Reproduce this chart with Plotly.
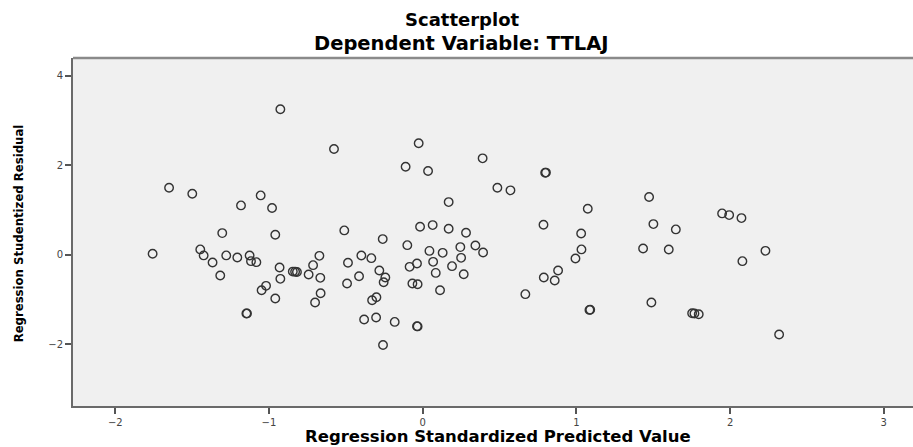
import plotly.graph_objects as go

# Regression Standardized Predicted Value (x) and Regression Studentized Residual (y)
pred_std = [
    -0.926, -0.577, -0.026, -0.111, 0.035, -1.650, -1.499, -1.054, -1.182, -0.980,
    0.169, -1.304, -0.959, -0.510, -0.017, 0.065, 0.169, -0.260, -0.100, 0.390,
    0.797, 0.802, 0.486, 0.571, 1.473, 1.074, 1.948, 1.994, 2.074, 0.282,
    0.786, 1.031, 1.501, 1.647, 0.245, 0.343, 0.393, 0.130, 0.250, 0.191,
    0.267, 1.033, 0.994, 0.881, 0.788, 0.859, 0.668, 1.085, 1.090, 1.434,
    1.601, 1.488, 1.753, 1.768, 1.796, 2.230, 2.080, 2.319, 0.044, -1.757,
    -1.447, -1.425, -1.367, -1.278, -1.206, -1.126, -1.117, -1.082, -1.317, -0.931,
    -0.926, -0.845, -0.830, -0.818, -1.019, -1.048, -0.959, -1.147, -1.143, -0.742,
    -0.713, -0.672, -0.666, -0.664, -0.700, -0.486, -0.492, -0.414, -0.399, -0.334,
    -0.282, -0.243, -0.254, -0.329, -0.301, -0.381, -0.303, -0.182, -0.037, -0.033,
    -0.258, -0.085, -0.037, -0.067, -0.033, 0.068, 0.085, 0.113,
]
resid_stud = [
    3.254, 2.366, 2.493, 1.970, 1.873, 1.500, 1.366, 1.328, 1.105, 1.045,
    1.179, 0.485, 0.447, 0.546, 0.626, 0.664, 0.582, 0.351, 0.216, 2.157,
    1.835, 1.838, 1.500, 1.441, 1.291, 1.029, 0.926, 0.888, 0.821, 0.492,
    0.671, 0.478, 0.687, 0.568, 0.172, 0.209, 0.052, 0.044, -0.068, -0.254,
    -0.433, 0.121, -0.081, -0.350, -0.507, -0.574, -0.880, -1.231, -1.228, 0.141,
    0.119, -1.067, -1.306, -1.313, -1.328, 0.089, -0.142, -1.783, 0.088, 0.023,
    0.121, -0.013, -0.171, -0.013, -0.060, -0.015, -0.142, -0.164, -0.463, -0.283,
    -0.537, -0.375, -0.380, -0.385, -0.694, -0.791, -0.977, -1.313, -1.310, -0.440,
    -0.231, -0.023, -0.515, -0.858, -1.067, -0.179, -0.641, -0.478, -0.015, -0.075,
    -0.350, -0.507, -0.612, -1.015, -0.948, -1.447, -1.402, -1.500, -1.597, -1.600,
    -2.015, -0.269, -0.194, -0.641, -0.657, -0.157, -0.404, -0.791,
]

x_ticks = [-2, -1, 0, 1, 2, 3]
y_ticks = [-2, 0, 2, 4]

title_main = "Scatterplot"
title_sub = "Dependent Variable: TTLAJ"
x_title = "Regression Standardized Predicted Value"
y_title = "Regression Studentized Residual"

fig = go.Figure()
fig.add_trace(go.Scatter(
    x=pred_std, y=resid_stud, mode="markers",
    marker=dict(symbol="circle-open", size=8.5, color="#333333",
                line=dict(width=1.4, color="#333333")),
    showlegend=False, hoverinfo="x+y",
))

axis_common = dict(
    showgrid=False, zeroline=False, showline=True, linewidth=2, linecolor="#6a6a6a",
    ticks="outside", ticklen=6, tickwidth=1.5, tickcolor="#555555",
    tickfont=dict(family="DejaVu Sans, Arial, sans-serif", size=10, color="#444444"),
)

fig.update_layout(
    width=913, height=447,
    margin=dict(l=73, r=0, t=58, b=41),
    paper_bgcolor="white", plot_bgcolor="#f0f0f0",
    xaxis=dict(range=[-2.275, 3.19], tickvals=x_ticks, **axis_common),
    yaxis=dict(range=[-3.38, 4.40], tickvals=y_ticks, **axis_common),
    shapes=[dict(type="line", xref="paper", yref="paper", x0=0, x1=1, y0=1, y1=1,
                 line=dict(color="#8a8a8a", width=2.5))],
    annotations=[
        dict(text=title_main, xref="paper", yref="paper", x=0.463, y=1.112,
             xanchor="center", yanchor="middle", showarrow=False,
             font=dict(family="DejaVu Sans, Arial, sans-serif", size=18, color="black", weight="bold")),
        dict(text=title_sub, xref="paper", yref="paper", x=0.463, y=1.043,
             xanchor="center", yanchor="middle", showarrow=False,
             font=dict(family="DejaVu Sans, Arial, sans-serif", size=19.5, color="black", weight="bold")),
        dict(text=x_title, xref="paper", yref="paper", x=0.506, y=-0.087,
             xanchor="center", yanchor="middle", showarrow=False,
             font=dict(family="DejaVu Sans, Arial, sans-serif", size=16.5, color="black", weight="bold")),
        dict(text=y_title, xref="paper", yref="paper", x=-0.0655, y=0.496,
             xanchor="center", yanchor="middle", showarrow=False, textangle=-90,
             font=dict(family="Liberation Sans Narrow, DejaVu Sans Condensed, Arial Narrow, Liberation Sans, sans-serif",
                       size=13, color="black", weight="bold")),
    ],
)

fig.write_html("out.html", config={"displayModeBar": False},
               post_script="document.body.style.margin='0';document.body.style.padding='0';")
